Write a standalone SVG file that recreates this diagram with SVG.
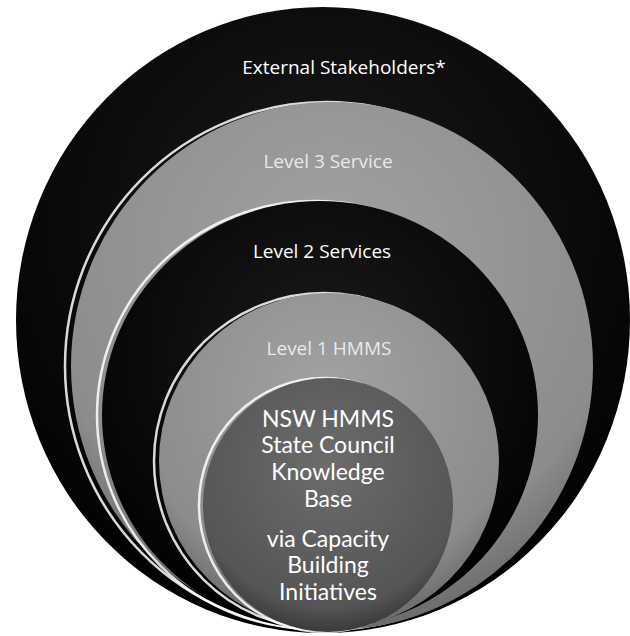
<svg xmlns="http://www.w3.org/2000/svg" width="630" height="636" viewBox="0 0 630 636">
  <defs>
    <radialGradient id="gBlack" cx="50%" cy="35%" r="65%">
      <stop offset="0" stop-color="#1a1a1a"/>
      <stop offset="0.85" stop-color="#050505"/>
      <stop offset="1" stop-color="#000"/>
    </radialGradient>
    <radialGradient id="gGrey" cx="50%" cy="30%" r="70%">
      <stop offset="0" stop-color="#a2a2a2"/>
      <stop offset="0.8" stop-color="#8c8c8c"/>
      <stop offset="1" stop-color="#6a6a6a"/>
    </radialGradient>
    <radialGradient id="gInner" cx="50%" cy="35%" r="65%">
      <stop offset="0" stop-color="#6c6c6c"/>
      <stop offset="0.85" stop-color="#555"/>
      <stop offset="1" stop-color="#3a3a3a"/>
    </radialGradient>
  </defs>
  <style>
    .lbl { font-family: "Open Sans", "Liberation Sans", sans-serif; fill: #ffffff; text-anchor: middle; }
    .mid { font-size: 19px; }
    .big { font-family: Lato, "Open Sans", sans-serif; font-size: 23px; }
    .rim { fill: none; stroke: #ffffff; stroke-width: 2.5; stroke-opacity: 0.85; }
  </style>
  <rect width="630" height="636" fill="#ffffff"/>

  <g id="external-stakeholders">
    <ellipse cx="323" cy="320" rx="307" ry="313" fill="url(#gBlack)"/>
    <text class="lbl mid" x="344" y="74">External Stakeholders*</text>
  </g>

  <g id="level-3-service">
    <ellipse cx="332" cy="366" rx="261" ry="264" class="rim" transform="translate(-6,0)"/>
    <ellipse cx="332" cy="366" rx="261" ry="264" fill="url(#gGrey)"/>
    <text class="lbl mid" x="328" y="168" fill-opacity="0.8">Level 3 Service</text>
  </g>

  <g id="level-2-services">
    <ellipse cx="320" cy="415" rx="218" ry="214" class="rim" transform="translate(-5,0)"/>
    <ellipse cx="320" cy="415" rx="218" ry="214" fill="url(#gBlack)"/>
    <text class="lbl mid" x="322" y="258">Level 2 Services</text>
  </g>

  <g id="level-1-hmms">
    <ellipse cx="329" cy="461" rx="170" ry="168" class="rim" transform="translate(-5,0)"/>
    <ellipse cx="329" cy="461" rx="170" ry="168" fill="url(#gGrey)"/>
    <text class="lbl mid" x="329" y="355" fill-opacity="0.8">Level 1 HMMS</text>
  </g>

  <g id="nsw-hmms-state-council">
    <ellipse cx="328" cy="505" rx="125" ry="127" class="rim" transform="translate(-4,0)"/>
    <ellipse cx="328" cy="505" rx="125" ry="127" fill="url(#gInner)"/>
    <text class="lbl big" x="328" y="427">NSW HMMS</text>
    <text class="lbl big" x="328" y="453">State Council</text>
    <text class="lbl big" x="328" y="480">Knowledge</text>
    <text class="lbl big" x="328" y="507">Base</text>
    <text class="lbl big" x="328" y="547">via Capacity</text>
    <text class="lbl big" x="328" y="573">Building</text>
    <text class="lbl big" x="328" y="600">Initiatives</text>
  </g>
</svg>
